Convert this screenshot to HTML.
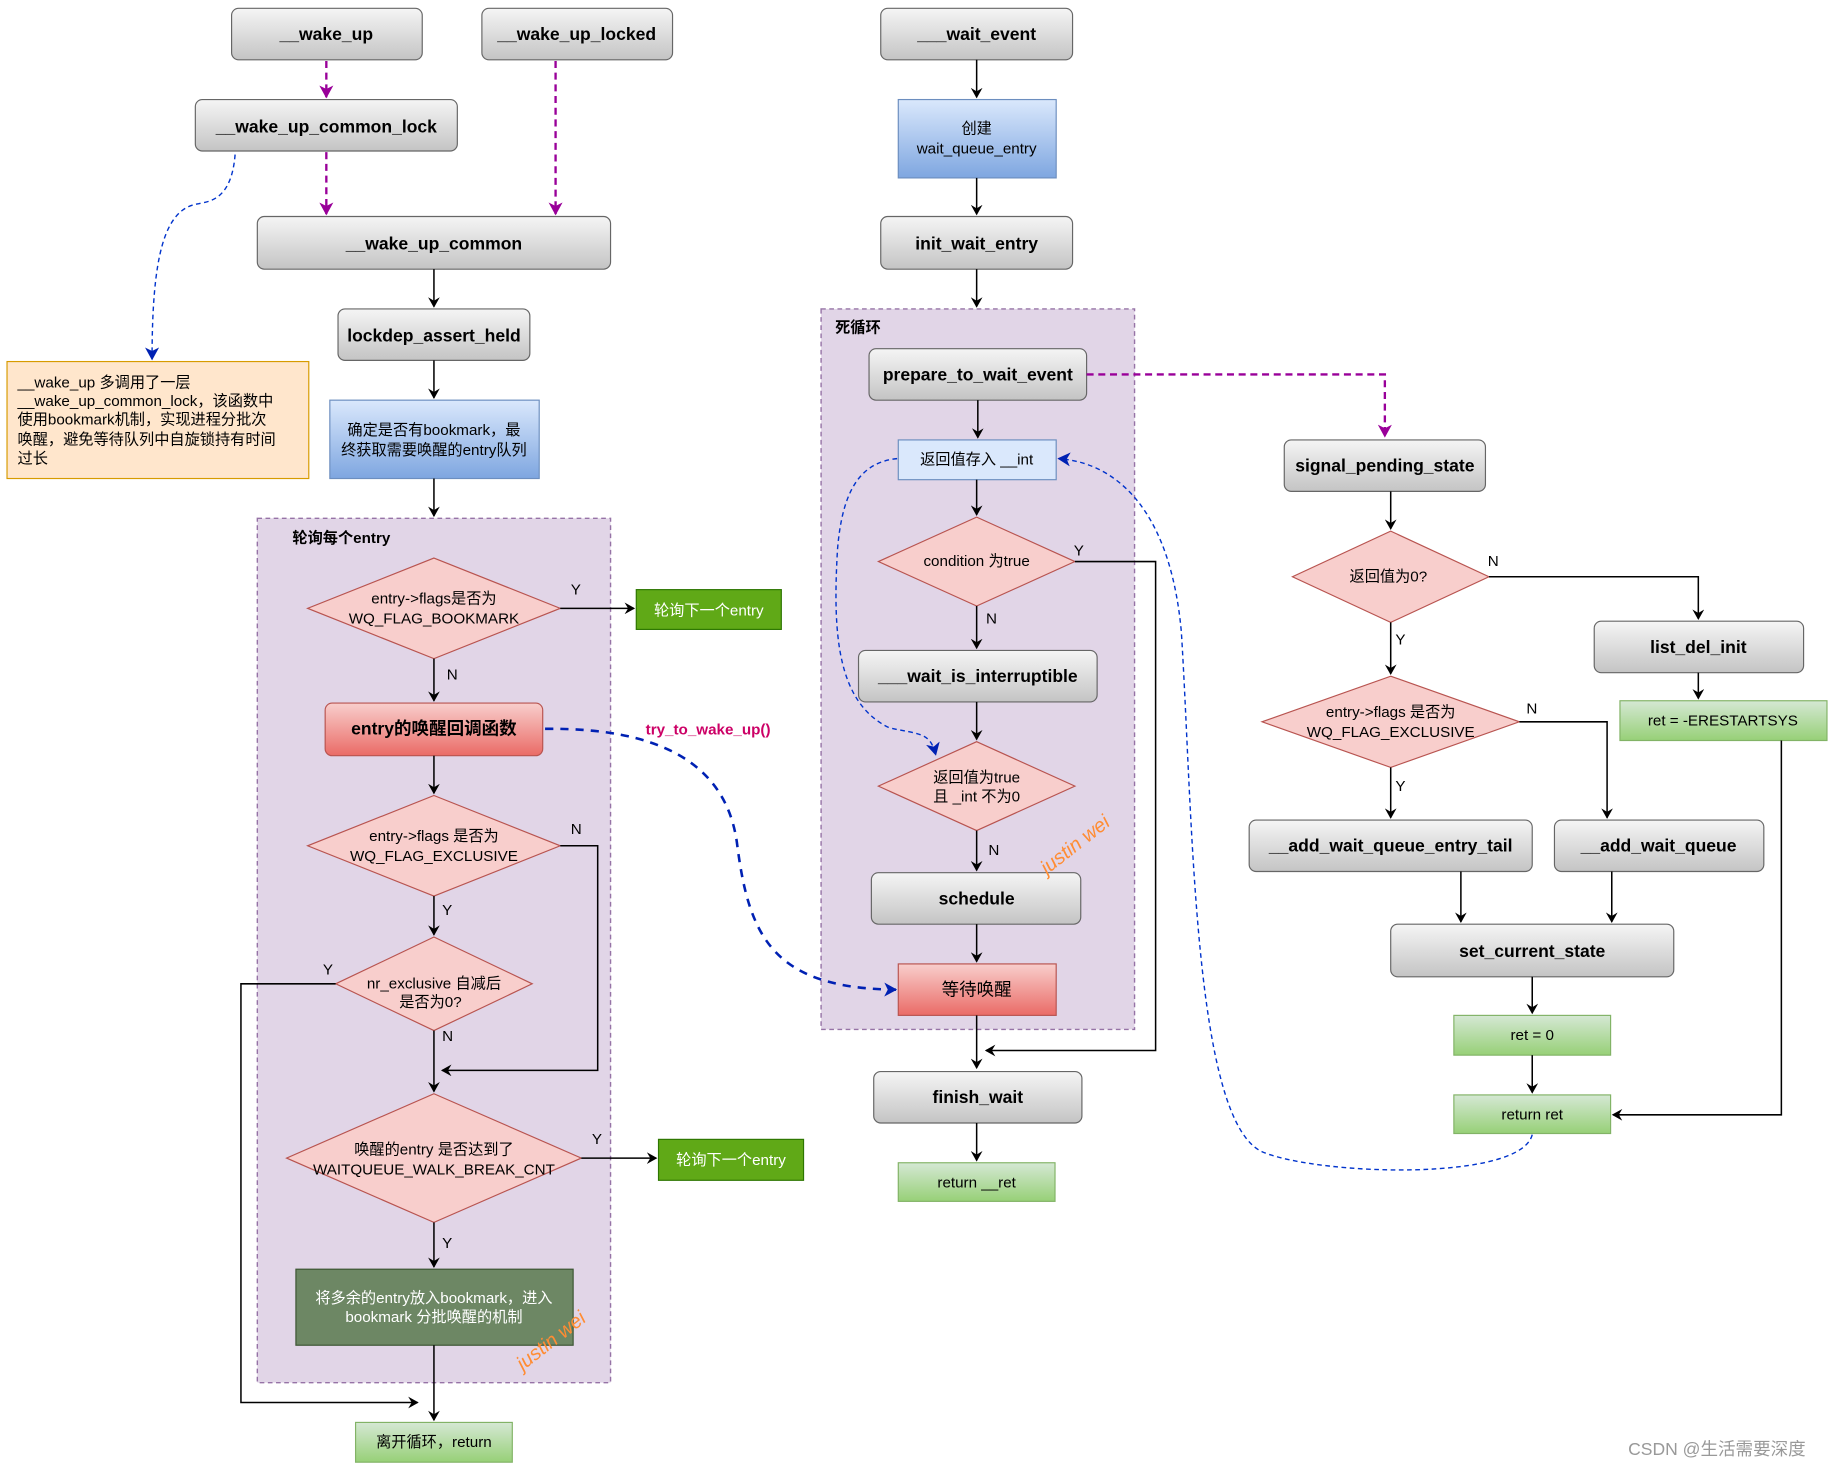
<!DOCTYPE html>
<html><head><meta charset="utf-8"><style>
html,body{margin:0;padding:0;background:#fff;}
svg{display:block;}
text{font-family:"Liberation Sans","Noto Sans CJK SC",sans-serif;}
.g{fill:url(#gg);stroke:#666;stroke-width:1;}
.gt{font-size:15px;font-weight:bold;fill:#000;text-anchor:middle;}
.d{fill:#f8cecc;stroke:#b85450;stroke-width:1;}
.t{font-size:13px;fill:#000;text-anchor:middle;}
.l{font-size:13px;fill:#000;}
.e{fill:none;stroke:#000;stroke-width:1.3;}
.reg{fill:#e1d5e7;stroke:#9673a6;stroke-dasharray:4 3;stroke-width:1.2;}
.gr{fill:url(#grn);stroke:#82b366;}
</style></head><body>
<svg width="1834" height="1467" viewBox="0 0 1568 1254" xmlns="http://www.w3.org/2000/svg">
<defs>
<linearGradient id="gg" x1="0" y1="0" x2="0" y2="1"><stop offset="0" stop-color="#f5f5f5"/><stop offset="1" stop-color="#c4c4c4"/></linearGradient>
<linearGradient id="bl" x1="0" y1="0" x2="0" y2="1"><stop offset="0" stop-color="#dae8fc"/><stop offset="1" stop-color="#7ea6e0"/></linearGradient>
<linearGradient id="rd" x1="0" y1="0" x2="0" y2="1"><stop offset="0" stop-color="#f8cecc"/><stop offset="1" stop-color="#ea6b66"/></linearGradient>
<linearGradient id="grn" x1="0" y1="0" x2="0" y2="1"><stop offset="0" stop-color="#d5e8d4"/><stop offset="1" stop-color="#97d077"/></linearGradient>
<marker id="a" markerWidth="10" markerHeight="10" refX="8" refY="5" orient="auto" markerUnits="userSpaceOnUse"><path d="M0,0 L9,5 L0,10 L3,5 Z" fill="#000"/></marker>
<marker id="ap" markerWidth="12" markerHeight="12" refX="10" refY="6" orient="auto" markerUnits="userSpaceOnUse"><path d="M0,0 L11,6 L0,12 L3,6 Z" fill="#990099"/></marker>
<marker id="ab" markerWidth="12" markerHeight="12" refX="10" refY="6" orient="auto" markerUnits="userSpaceOnUse"><path d="M0,0 L11,6 L0,12 L3,6 Z" fill="#0021b3"/></marker>
</defs>

<!-- regions -->
<rect class="reg" x="220" y="443" width="302" height="739"/>
<text x="250" y="464" font-size="13" font-weight="bold">轮询每个entry</text>
<rect class="reg" x="702" y="264" width="268" height="616"/>
<text x="714" y="284" font-size="13" font-weight="bold">死循环</text>

<!-- left column -->
<rect class="g" x="198" y="7" width="163" height="44" rx="6"/><text class="gt" x="279" y="34">__wake_up</text>
<rect class="g" x="412" y="7" width="163" height="44" rx="6"/><text class="gt" x="493" y="34">__wake_up_locked</text>
<rect class="g" x="167" y="85" width="224" height="44" rx="6"/><text class="gt" x="279" y="113">__wake_up_common_lock</text>
<rect class="g" x="220" y="185" width="302" height="45" rx="6"/><text class="gt" x="371" y="213">__wake_up_common</text>
<rect class="g" x="289" y="264" width="164" height="44" rx="6"/><text class="gt" x="371" y="292">lockdep_assert_held</text>
<rect x="282" y="342" width="179" height="67" fill="url(#bl)" stroke="#6c8ebf"/>
<text class="t" x="371" y="372">确定是否有bookmark，最</text><text class="t" x="371" y="389">终获取需要唤醒的entry队列</text>
<rect x="6" y="309" width="258" height="100" fill="#ffe6cc" stroke="#d79b00"/>
<text class="l" x="15" y="331">__wake_up 多调用了一层</text>
<text class="l" x="15" y="347">__wake_up_common_lock，该函数中</text>
<text class="l" x="15" y="363">使用bookmark机制，实现进程分批次</text>
<text class="l" x="15" y="380">唤醒，避免等待队列中自旋锁持有时间</text>
<text class="l" x="15" y="396">过长</text>

<path d="M279,52 V83" stroke="#990099" stroke-width="2" stroke-dasharray="6 4" fill="none" marker-end="url(#ap)"/>
<path d="M279,130 V183" stroke="#990099" stroke-width="2" stroke-dasharray="6 4" fill="none" marker-end="url(#ap)"/>
<path d="M475,52 V183" stroke="#990099" stroke-width="2" stroke-dasharray="6 4" fill="none" marker-end="url(#ap)"/>
<path d="M201,132 C198,170 180,172 170,174 C140,178 130,220 130,307" stroke="#0033cc" stroke-width="1.2" stroke-dasharray="4 3" fill="none" marker-end="url(#ab)"/>
<path class="e" d="M371,230 V262" marker-end="url(#a)"/>
<path class="e" d="M371,308 V340" marker-end="url(#a)"/>
<path class="e" d="M371,409 V441" marker-end="url(#a)"/>

<polygon class="d" points="371,477 479,520 371,563 263,520"/>
<text class="t" x="371" y="516">entry-&gt;flags是否为</text><text class="t" x="371" y="533">WQ_FLAG_BOOKMARK</text>
<text class="l" x="488" y="508">Y</text>
<path class="e" d="M479,520 H542" marker-end="url(#a)"/>
<rect x="544" y="504" width="124" height="34" fill="#60a917" stroke="#2d7600"/><text class="t" x="606" y="526" fill="#fff" style="fill:#fff">轮询下一个entry</text>
<text class="l" x="382" y="581">N</text>
<path class="e" d="M371,563 V599" marker-end="url(#a)"/>
<rect x="278" y="601" width="186" height="45" rx="6" fill="url(#rd)" stroke="#b85450"/><text class="gt" x="371" y="628">entry的唤醒回调函数</text>
<text x="552" y="628" font-size="13" font-weight="bold" fill="#cc0066">try_to_wake_up()</text>
<path d="M466,623 C560,622 620,650 630,720 C640,800 660,845 766,846" stroke="#0021b3" stroke-width="2.2" stroke-dasharray="7 6" fill="none" marker-end="url(#ab)"/>
<path class="e" d="M371,646 V678" marker-end="url(#a)"/>
<polygon class="d" points="371,680 479,723 371,766 263,723"/>
<text class="t" x="371" y="719">entry-&gt;flags 是否为</text><text class="t" x="371" y="736">WQ_FLAG_EXCLUSIVE</text>
<text class="l" x="488" y="713">N</text>
<path class="e" d="M479,723 H511 V915 H378" marker-end="url(#a)"/>
<text class="l" x="378" y="782">Y</text>
<path class="e" d="M371,766 V799" marker-end="url(#a)"/>
<polygon class="d" points="371,801 455,841 371,881 287,841"/>
<text class="t" x="371" y="845">nr_exclusive 自减后</text><text class="t" x="368" y="861">是否为0?</text>
<text class="l" x="276" y="833">Y</text>
<path class="e" d="M287,841 H206 V1199 H357" marker-end="url(#a)"/>
<text class="l" x="378" y="890">N</text>
<path class="e" d="M371,881 V933" marker-end="url(#a)"/>
<polygon class="d" points="371,935 497,990 371,1045 245,990"/>
<text class="t" x="371" y="987">唤醒的entry 是否达到了</text><text class="t" x="371" y="1004">WAITQUEUE_WALK_BREAK_CNT</text>
<text class="l" x="506" y="978">Y</text>
<path class="e" d="M497,990 H561" marker-end="url(#a)"/>
<rect x="563" y="974" width="124" height="35" fill="#60a917" stroke="#2d7600"/><text class="t" x="625" y="996" style="fill:#fff">轮询下一个entry</text>
<text class="l" x="378" y="1067">Y</text>
<path class="e" d="M371,1045 V1083" marker-end="url(#a)"/>
<rect x="253" y="1085" width="237" height="65" fill="#6d8764" stroke="#3a5431"/>
<text class="t" x="371" y="1114" style="fill:#fff">将多余的entry放入bookmark，进入</text><text class="t" x="371" y="1130" style="fill:#fff">bookmark 分批唤醒的机制</text>
<path class="e" d="M371,1150 V1214" marker-end="url(#a)"/>
<rect class="gr" x="304" y="1216" width="134" height="34"/><text class="t" x="371" y="1237">离开循环，return</text>
<text x="0" y="0" font-size="17" font-style="italic" fill="#ff8c33" transform="translate(447,1172) rotate(-38)">justin wei</text>

<!-- middle column -->
<rect class="g" x="753" y="7" width="164" height="44" rx="6"/><text class="gt" x="835" y="34">___wait_event</text>
<path class="e" d="M835,51 V83" marker-end="url(#a)"/>
<rect x="768" y="85" width="135" height="67" fill="url(#bl)" stroke="#6c8ebf"/>
<text class="t" x="835" y="114">创建</text><text class="t" x="835" y="131">wait_queue_entry</text>
<path class="e" d="M835,152 V183" marker-end="url(#a)"/>
<rect class="g" x="753" y="185" width="164" height="45" rx="6"/><text class="gt" x="835" y="213">init_wait_entry</text>
<path class="e" d="M835,230 V262" marker-end="url(#a)"/>
<rect class="g" x="743" y="298" width="186" height="44" rx="6"/><text class="gt" x="836" y="325">prepare_to_wait_event</text>
<path d="M929,320 H1184 V373" stroke="#990099" stroke-width="2" stroke-dasharray="6 4" fill="none" marker-end="url(#ap)"/>
<path class="e" d="M836,342 V374" marker-end="url(#a)"/>
<rect x="768" y="376" width="135" height="34" fill="#dae8fc" stroke="#6c8ebf"/><text class="t" x="835" y="397">返回值存入 __int</text>
<path class="e" d="M835,410 V440" marker-end="url(#a)"/>
<polygon class="d" points="835,442 919,480 835,518 751,480"/>
<text class="t" x="835" y="484">condition 为true</text>
<text class="l" x="918" y="475">Y</text>
<path class="e" d="M919,480 H988 V898 H843" marker-end="url(#a)"/>
<text class="l" x="843" y="533">N</text>
<path class="e" d="M835,518 V554" marker-end="url(#a)"/>
<rect class="g" x="734" y="556" width="204" height="44" rx="6"/><text class="gt" x="836" y="583">___wait_is_interruptible</text>
<path class="e" d="M835,600 V632" marker-end="url(#a)"/>
<polygon class="d" points="835,634 919,672 835,710 751,672"/>
<text class="t" x="835" y="669">返回值为true</text><text class="t" x="835" y="685">且 _int 不为0</text>
<path d="M767,392 C735,395 720,420 716,470 C712,540 715,600 760,622 C785,628 795,625 800,645" stroke="#0033cc" stroke-width="1.2" stroke-dasharray="4 3" fill="none" marker-end="url(#ab)"/>
<text class="l" x="845" y="731">N</text>
<path class="e" d="M835,710 V744" marker-end="url(#a)"/>
<rect class="g" x="745" y="746" width="179" height="44" rx="6"/><text class="gt" x="835" y="773">schedule</text>
<path class="e" d="M835,790 V822" marker-end="url(#a)"/>
<rect x="768" y="824" width="135" height="44" fill="url(#rd)" stroke="#b85450"/><text x="835" y="851" font-size="15" text-anchor="middle">等待唤醒</text>
<text x="0" y="0" font-size="17" font-style="italic" fill="#ff8c33" transform="translate(895,748) rotate(-38)">justin wei</text>
<path class="e" d="M835,868 V913" marker-end="url(#a)"/>
<rect class="g" x="747" y="916" width="178" height="44" rx="6"/><text class="gt" x="836" y="943">finish_wait</text>
<path class="e" d="M835,960 V992" marker-end="url(#a)"/>
<rect class="gr" x="768" y="994" width="134" height="33"/><text class="t" x="835" y="1015">return __ret</text>

<!-- right column -->
<rect class="g" x="1098" y="376" width="172" height="44" rx="6"/><text class="gt" x="1184" y="403">signal_pending_state</text>
<path class="e" d="M1189,420 V452" marker-end="url(#a)"/>
<polygon class="d" points="1189,454 1273,493 1189,532 1105,493"/>
<text class="t" x="1187" y="497">返回值为0?</text>
<text class="l" x="1272" y="484">N</text>
<path class="e" d="M1273,493 H1452 V529" marker-end="url(#a)"/>
<rect class="g" x="1363" y="531" width="179" height="44" rx="6"/><text class="gt" x="1452" y="558">list_del_init</text>
<path class="e" d="M1452,575 V597" marker-end="url(#a)"/>
<rect class="gr" x="1385" y="599" width="177" height="34"/><text class="t" x="1473" y="620">ret = -ERESTARTSYS</text>
<path class="e" d="M1523,633 V953 H1379" marker-end="url(#a)"/>
<text class="l" x="1193" y="551">Y</text>
<path class="e" d="M1189,532 V576" marker-end="url(#a)"/>
<polygon class="d" points="1189,578 1299,617 1189,656 1079,617"/>
<text class="t" x="1189" y="613">entry-&gt;flags 是否为</text><text class="t" x="1189" y="630">WQ_FLAG_EXCLUSIVE</text>
<text class="l" x="1305" y="610">N</text>
<path class="e" d="M1299,617 H1374 V699" marker-end="url(#a)"/>
<text class="l" x="1193" y="676">Y</text>
<path class="e" d="M1189,656 V699" marker-end="url(#a)"/>
<rect class="g" x="1068" y="701" width="242" height="44" rx="6"/><text class="gt" x="1189" y="728">__add_wait_queue_entry_tail</text>
<rect class="g" x="1329" y="701" width="179" height="44" rx="6"/><text class="gt" x="1418" y="728">__add_wait_queue</text>
<path class="e" d="M1249,745 V788" marker-end="url(#a)"/>
<path class="e" d="M1378,745 V788" marker-end="url(#a)"/>
<rect class="g" x="1189" y="790" width="242" height="45" rx="6"/><text class="gt" x="1310" y="818">set_current_state</text>
<path class="e" d="M1310,835 V866" marker-end="url(#a)"/>
<rect class="gr" x="1243" y="868" width="134" height="34"/><text class="t" x="1310" y="889">ret = 0</text>
<path class="e" d="M1310,902 V934" marker-end="url(#a)"/>
<rect class="gr" x="1243" y="936" width="134" height="33"/><text class="t" x="1310" y="957">return ret</text>
<path d="M1310,970 C1300,1010 1130,1005 1080,985 C1020,960 1020,700 1010,540 C1000,430 950,395 905,392" stroke="#0033cc" stroke-width="1.2" stroke-dasharray="4 3" fill="none" marker-end="url(#ab)"/>

<text x="1392" y="1244" font-size="15" fill="#999">CSDN @生活需要深度</text>
</svg>
</body></html>
